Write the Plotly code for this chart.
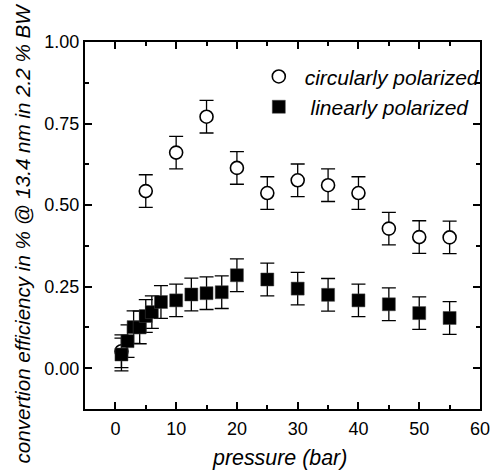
import plotly.graph_objects as go

circ_x = [1, 5, 10, 15, 20, 25, 30, 35, 40, 45, 50, 55]
circ_y = [0.052, 0.543, 0.661, 0.771, 0.614, 0.537, 0.576, 0.561, 0.537, 0.428, 0.402, 0.401]
circ_err = [0.05] * len(circ_x)

lin_x = [1, 2, 3, 4, 5, 6, 7.5, 10, 12.5, 15, 17.5, 20, 25, 30, 35, 40, 45, 50, 55]
lin_y = [0.042, 0.083, 0.126, 0.125, 0.160, 0.172, 0.203, 0.208, 0.226, 0.230, 0.233, 0.285,
         0.272, 0.244, 0.225, 0.208, 0.196, 0.169, 0.154]
lin_err = [0.05] * len(lin_x)

x_title = "pressure (bar)"
y_title = "convertion efficiency in % @ 13.4 nm in 2.2 % BW"

FONT = "Arial, Liberation Sans, sans-serif"

fig = go.Figure()
fig.add_trace(go.Scatter(
    x=circ_x, y=circ_y, mode="markers", name="&nbsp;<i>circularly polarized</i>",
    marker=dict(symbol="circle", size=13, color="white", line=dict(color="black", width=1.6)),
    error_y=dict(type="data", array=circ_err, color="black", thickness=1.3, width=7),
))
fig.add_trace(go.Scatter(
    x=lin_x, y=lin_y, mode="markers", name="&nbsp;&nbsp;<i>linearly polarized</i>",
    marker=dict(symbol="square", size=13, color="black", line=dict(color="#444", width=0.5)),
    error_y=dict(type="data", array=lin_err, color="black", thickness=1.3, width=7),
))

axis_common = dict(
    showline=True, linecolor="black", linewidth=2, mirror="ticks",
    ticks="inside", ticklen=7, tickwidth=1.5, tickcolor="black",
    showgrid=False, zeroline=False,
    tickfont=dict(family=FONT, size=18, color="black"),
)

fig.update_xaxes(range=[-5, 60], tickmode="array", tickvals=[0, 10, 20, 30, 40, 50, 60],
                 ticklabelstandoff=2,
                 minor=dict(ticks="inside", ticklen=4, tickwidth=1.5, tickcolor="black", dtick=5, tick0=5),
                 **axis_common)
fig.update_yaxes(range=[-0.125, 1.0], tickmode="array", tickvals=[0, 0.25, 0.5, 0.75, 1.0],
                 ticktext=["0.00", "0.25", "0.50", "0.75", "1.00"],
                 minor=dict(ticks="inside", ticklen=4, tickwidth=1.5, tickcolor="black", dtick=0.125, tick0=-0.125),
                 **axis_common)

fig.add_annotation(text="<i>" + x_title + "</i>", xref="paper", yref="paper",
                   x=0.493, y=-0.133, xanchor="center", yanchor="middle", showarrow=False,
                   font=dict(family=FONT, size=21.4, color="black"))
fig.add_annotation(text="<i>" + y_title + "</i>", xref="paper", yref="paper",
                   x=-0.158, y=0.48, xanchor="center", yanchor="middle", showarrow=False,
                   textangle=-90, font=dict(family=FONT, size=20.6, color="black"))

fig.update_layout(
    width=500, height=473,
    margin=dict(l=85, r=10, t=42, b=64),
    plot_bgcolor="white", paper_bgcolor="white",
    showlegend=True,
    legend=dict(x=0.44, y=0.961, xanchor="left", yanchor="top", bgcolor="rgba(0,0,0,0)",
                font=dict(family=FONT, size=21, color="black"), tracegroupgap=0,
                itemwidth=30),
)

fig.write_html("out.html", config={"displayModeBar": False},
               post_script="document.body.style.margin='0';document.body.style.padding='0';")
